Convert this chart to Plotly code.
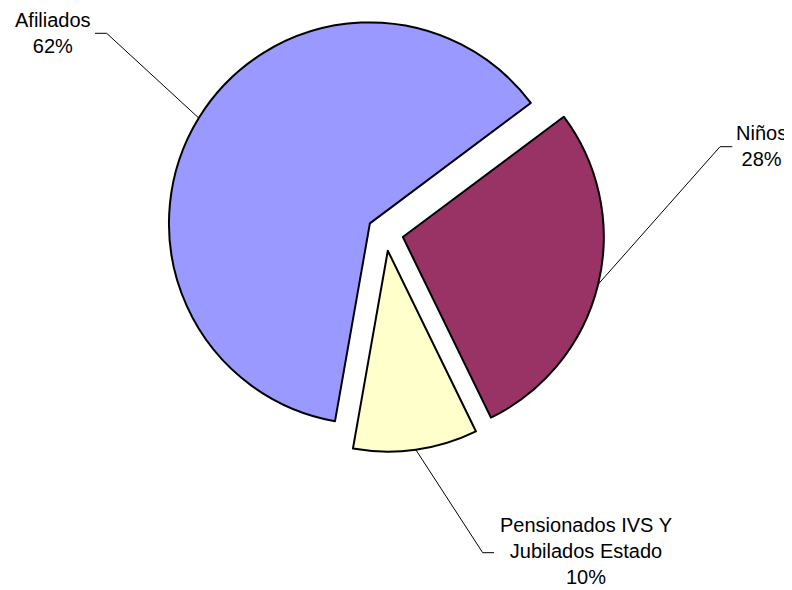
import math
import plotly.graph_objects as go

# ---- data ----
categories = ["Afiliados", "Niños", "Pensionados IVS Y Jubilados Estado"]
label_lines = [["Afiliados"], ["Niños"], ["Pensionados IVS Y", "Jubilados Estado"]]
values = [62, 28, 10]
colors = ["#9999FF", "#993366", "#FFFFCC"]

# ---- layout / style ----
W, H = 792, 590
OFF = 8  # page body margin added by the browser
rotation = 190
pull = 0.09
font_family = "Liberation Sans, Arial, sans-serif"
font_size = 20

# pie centre and outer extent in page pixels
pie_cx, pie_cy, pie_half = 385.3, 232.8, 219.0
dom_x = [(pie_cx - OFF - pie_half) / W, (pie_cx - OFF + pie_half) / W]
dom_y = [1 - (pie_cy - OFF + pie_half) / H, 1 - (pie_cy - OFF - pie_half) / H]

# label placement (page pixel coordinates of label centre, leader elbow, leader end)
label_pos = [(53, 33), (761, 146), (585.5, 551)]
elbow_pos = [(106.7, 33.3), (720, 146.7), (482.7, 552.7)]
tail_pos = [(95, 33.3), (732.3, 146.7), (494, 552.7)]

total = sum(values)
pcts = [round(100 * v / total) for v in values]

fig = go.Figure(
    go.Pie(
        labels=categories,
        values=values,
        sort=False,
        direction="clockwise",
        rotation=rotation,
        pull=[pull] * len(values),
        marker=dict(colors=colors, line=dict(color="#000000", width=2)),
        textinfo="none",
        hoverinfo="label+percent",
        showlegend=False,
        domain=dict(x=dom_x, y=dom_y),
    )
)

# geometry derived from the pie's own domain, to place leader lines
box_w = W * (dom_x[1] - dom_x[0])
box_h = H * (dom_y[1] - dom_y[0])
r = min(box_w, box_h) / 2 / (1 + pull)
cx = W * (dom_x[0] + dom_x[1]) / 2
cy = H * (1 - (dom_y[0] + dom_y[1]) / 2)


def fig2paper(x, y):
    return x / W, 1 - y / H


def page2paper(x, y):
    return fig2paper(x - OFF, y - OFF)


shapes = []
annotations = []
cum = 0
for i, v in enumerate(values):
    mid = rotation + 360 * (cum + v / 2) / total
    cum += v
    a = math.radians(mid)
    sx = cx + (1 + pull) * r * math.sin(a)
    sy = cy - (1 + pull) * r * math.cos(a)
    p0 = fig2paper(sx, sy)
    p1 = page2paper(*elbow_pos[i])
    p2 = page2paper(*tail_pos[i])
    shapes.append(dict(type="path", xref="paper", yref="paper",
                       path=f"M {p0[0]},{p0[1]} L {p1[0]},{p1[1]} L {p2[0]},{p2[1]}",
                       line=dict(color="#000000", width=1)))
    lx, ly = page2paper(*label_pos[i])
    txt = "<br>".join(label_lines[i] + [f"{pcts[i]}%"])
    annotations.append(dict(x=lx, y=ly, xref="paper", yref="paper", text=txt,
                            showarrow=False, xanchor="center", yanchor="middle",
                            align="center",
                            font=dict(family=font_family, size=font_size, color="#000000")))

fig.update_layout(
    width=W, height=H,
    margin=dict(l=0, r=0, t=0, b=0),
    paper_bgcolor="#FFFFFF",
    plot_bgcolor="#FFFFFF",
    shapes=shapes,
    annotations=annotations,
    font=dict(family=font_family, size=font_size, color="#000000"),
)

fig.write_html("out.html")
